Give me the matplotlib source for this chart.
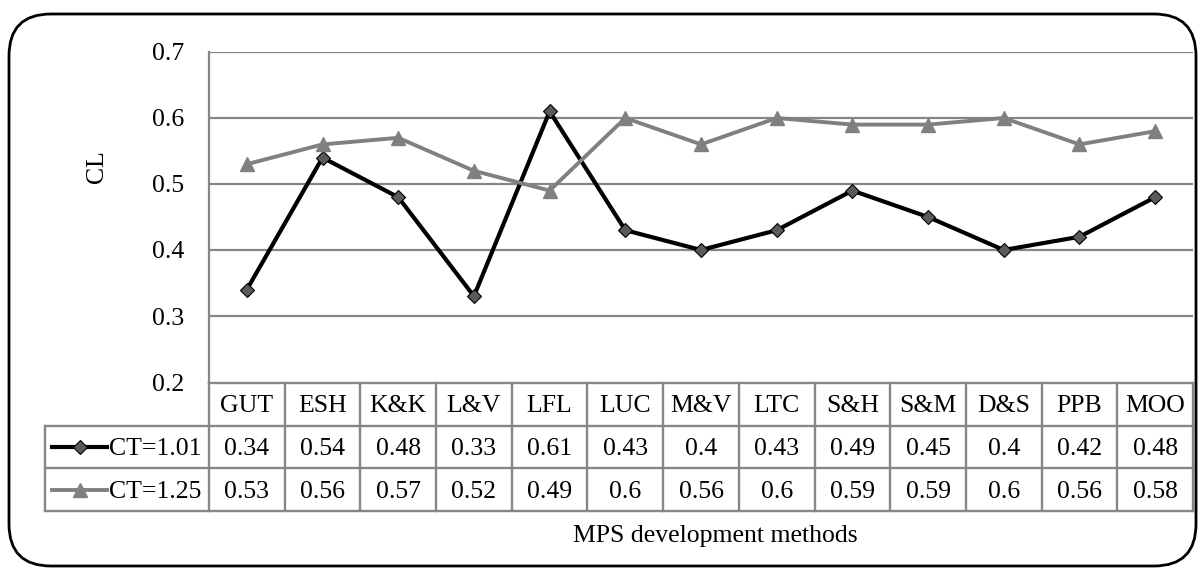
import matplotlib
matplotlib.use("Agg")
import matplotlib.pyplot as plt
from matplotlib.patches import FancyBboxPatch
from matplotlib.lines import Line2D

plt.rcParams['font.family'] = ['Liberation Serif', 'DejaVu Serif']

methods = ["GUT", "ESH", "K&K", "L&V", "LFL", "LUC", "M&V", "LTC", "S&H", "S&M", "D&S", "PPB", "MOO"]
ct_101 = [0.34, 0.54, 0.48, 0.33, 0.61, 0.43, 0.4, 0.43, 0.49, 0.45, 0.4, 0.42, 0.48]
ct_125 = [0.53, 0.56, 0.57, 0.52, 0.49, 0.6, 0.56, 0.6, 0.59, 0.59, 0.6, 0.56, 0.58]
series_names = ["CT=1.01", "CT=1.25"]
y_ticks = [0.2, 0.3, 0.4, 0.5, 0.6, 0.7]

W, H = 1200, 569
FS = 18.5
GRID = "#868686"
fig = plt.figure(figsize=(W / 100, H / 100), dpi=100)

def box(x0, y0, x1, y1):
    return [x0 / W, 1 - y1 / H, (x1 - x0) / W, (y1 - y0) / H]

# rounded outer frame
frame = FancyBboxPatch((9 / W, 1 - 566 / H), 1187 / W, 552 / H,
                       boxstyle="round,pad=0,rounding_size=0.035",
                       transform=fig.transFigure, fill=False,
                       edgecolor="black", linewidth=2.0, mutation_aspect=W / H)
fig.patches.append(frame)

# line plot area
ax = fig.add_axes(box(209, 52, 1193, 382))
n = len(methods)
xs = list(range(n))
ax.set_xlim(-0.5, n - 0.5)
ax.set_ylim(0.2, 0.7)
ax.set_yticks(y_ticks)
ax.set_yticklabels([f"{v:g}" for v in y_ticks], fontsize=FS)
ax.tick_params(axis="y", length=0, pad=18)
ax.set_xticks([])
for s in ["top", "right", "bottom"]:
    ax.spines[s].set_visible(False)
ax.spines["left"].set_color(GRID)
ax.spines["left"].set_linewidth(1.6)
for v in y_ticks[1:]:
    ax.axhline(v, color=GRID, linewidth=1.6, zorder=1)

style_101 = dict(color="black", linewidth=3.0, marker="D", markersize=7,
                 markerfacecolor="#5a5a5a", markeredgecolor="black", markeredgewidth=0.8)
style_125 = dict(color="#808080", linewidth=2.8, marker="^", markersize=10,
                 markerfacecolor="#808080", markeredgecolor="#808080")
ax.plot(xs, ct_101, zorder=3, **style_101)
ax.plot(xs, ct_125, zorder=4, **style_125)

fig.text(97 / W, 1 - 167 / H, "CL", rotation=90, fontsize=FS, ha="center", va="center")

# data table below the plot
tab = fig.add_axes(box(209, 383, 1193, 511))
tab.set_xlim(-0.5, n - 0.5)
tab.set_ylim(3, 0)
tab.axis("off")
col_w = 984 / n
leg_left = -0.5 - (209 - 45) / col_w

lw_t = 1.7
# horizontal rules
tab.plot([-0.5, n - 0.5], [0, 0], color=GRID, lw=lw_t, clip_on=False)
for r in [1, 2, 3]:
    tab.plot([leg_left, n - 0.5], [r, r], color=GRID, lw=lw_t, clip_on=False)
# vertical rules
for c in range(n + 1):
    tab.plot([c - 0.5, c - 0.5], [0, 3], color=GRID, lw=lw_t, clip_on=False)
tab.plot([leg_left, leg_left], [1, 3], color=GRID, lw=lw_t, clip_on=False)

for i, m in enumerate(methods):
    tab.text(i, 0.55, m, ha="center", va="center", fontsize=FS)
    tab.text(i, 1.55, f"{ct_101[i]:g}", ha="center", va="center", fontsize=FS)
    tab.text(i, 2.55, f"{ct_125[i]:g}", ha="center", va="center", fontsize=FS)

# legend keys inside the table
key_x0 = leg_left + (52 - 45) / col_w
key_x1 = leg_left + (107 - 45) / col_w
for row, (name, st) in enumerate(zip(series_names, [style_101, style_125])):
    yk = 1.5 + row
    tab.add_line(Line2D([key_x0, key_x1], [yk, yk], clip_on=False,
                        **{k: v for k, v in st.items() if not k.startswith("marker")}))
    tab.add_line(Line2D([(key_x0 + key_x1) / 2], [yk], clip_on=False, linestyle="none",
                        **{k: v for k, v in st.items() if k.startswith("marker")}))
    tab.text(key_x1 + 0.02, yk + 0.05, name, ha="left", va="center", fontsize=FS)

fig.text(715 / W, 1 - 536 / H, "MPS development methods", ha="center", va="center", fontsize=FS)

fig.savefig("out.png", dpi=100)
